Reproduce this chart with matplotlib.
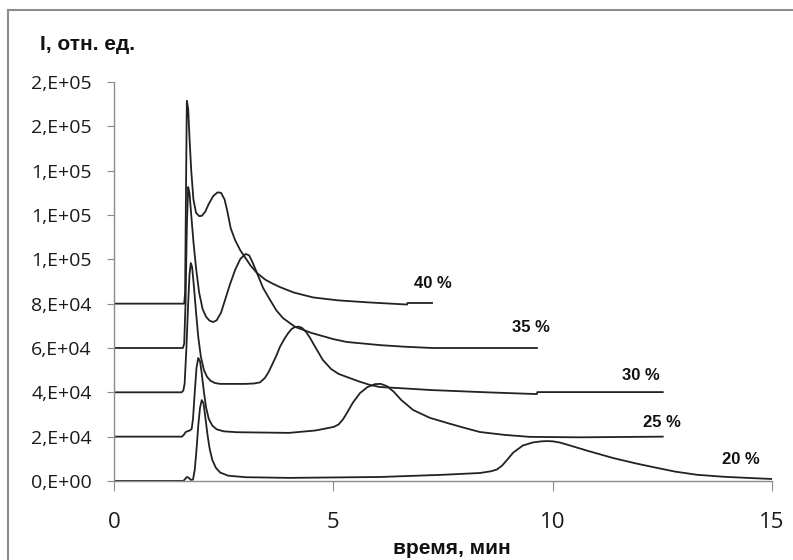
import matplotlib
matplotlib.use('Agg')
import matplotlib.pyplot as plt
from matplotlib.patches import Rectangle
from matplotlib.ticker import FuncFormatter, MultipleLocator

plt.rcParams['font.family'] = ['Open Sans', 'DejaVu Sans']
BOLD_FONT = ['Liberation Sans', 'DejaVu Sans']

# хроматограммы, сдвинутые по оси I на 2E+04 друг от друга
t_40 = [0, 1.60, 1.62, 1.64, 1.66, 1.69, 1.72, 1.76, 1.81, 1.87, 1.94, 2.00, 2.08, 2.16,
        2.26, 2.36, 2.44, 2.52, 2.58, 2.66, 2.76, 2.88, 3.00, 3.12, 3.26, 3.45, 3.62,
        3.78, 4.10, 4.54, 5.10, 5.77, 6.68, 6.69, 7.25]
i_40 = [80000, 80000, 85000, 130000, 171500, 168000, 155000, 140000, 127000, 121000,
        119500, 119600, 121500, 125000, 128500, 130200, 130000, 127000, 122000, 114000,
        108700, 104000, 100500, 97000, 93800, 90800, 89000, 87500, 85000, 82800, 81500,
        80600, 79600, 80300, 80300]

t_35 = [0, 1.57, 1.60, 1.63, 1.66, 1.69, 1.72, 1.76, 1.81, 1.87, 1.94, 2.02, 2.10, 2.18,
        2.26, 2.34, 2.44, 2.53, 2.64, 2.76, 2.88, 3.00, 3.08, 3.16, 3.26, 3.40, 3.56,
        3.70, 3.85, 4.13, 4.50, 5.00, 5.31, 6.06, 6.60, 7.25, 9.64]
i_35 = [60000, 60000, 62000, 80000, 115000, 132600, 130000, 120000, 108000, 96000, 85000,
        77500, 74000, 72300, 71700, 72500, 76000, 81600, 88500, 95200, 100200, 102400,
        101800, 98500, 93800, 87000, 81600, 77000, 73500, 69500, 66800, 64000, 62700,
        61300, 60600, 60000, 60000]

t_30 = [0, 1.54, 1.58, 1.61, 1.65, 1.69, 1.72, 1.75, 1.78, 1.82, 1.87, 1.92, 1.98, 2.05,
        2.12, 2.20, 2.30, 2.42, 3.00, 3.20, 3.33, 3.44, 3.52, 3.60, 3.70, 3.78, 3.88,
        3.97, 4.05, 4.13, 4.22, 4.29, 4.38, 4.47, 4.60, 4.76, 4.95, 5.12, 5.31, 5.60,
        5.84, 6.06, 6.50, 7.25, 8.50, 9.64, 9.65, 12.51]
i_30 = [40000, 40000, 40800, 44000, 60000, 80000, 93000, 98300, 96500, 88000, 76000,
        65000, 56000, 50000, 47000, 45200, 44200, 43800, 43800, 44000, 44500, 46500,
        49000, 52300, 56500, 60400, 64000, 66700, 68600, 69500, 69600, 69000, 67200,
        64500, 60000, 54600, 50500, 48300, 46900, 44800, 43300, 42400, 41900, 41000,
        40000, 39200, 40100, 40100]

t_25 = [0, 1.55, 1.59, 1.63, 1.68, 1.73, 1.77, 1.80, 1.84, 1.88, 1.92, 1.96, 2.00, 2.05,
        2.10, 2.16, 2.24, 2.34, 2.50, 2.80, 3.99, 4.60, 5.01, 5.12, 5.22, 5.31, 5.45,
        5.61, 5.78, 5.95, 6.08, 6.22, 6.38, 6.55, 6.82, 7.20, 7.59, 8.00, 8.34, 8.90,
        9.48, 10.62, 12.51]
i_25 = [20000, 20000, 20800, 22000, 22500, 22800, 23500, 28000, 40000, 51000, 55500,
        54000, 48500, 40000, 33000, 28000, 25000, 23300, 22400, 22000, 21700, 22800,
        24400, 25500, 27800, 30700, 35500, 39700, 42400, 43700, 43800, 42800, 40200,
        36500, 32000, 28500, 26200, 23900, 22100, 20800, 19900, 19700, 20000]

t_20 = [0, 1.58, 1.62, 1.66, 1.70, 1.75, 1.80, 1.84, 1.88, 1.92, 1.96, 2.00, 2.04, 2.08,
        2.13, 2.18, 2.24, 2.32, 2.42, 2.60, 3.00, 4.00, 6.06, 7.50, 8.34, 8.60, 8.73,
        8.85, 8.96, 9.10, 9.32, 9.55, 9.75, 9.87, 10.00, 10.15, 10.33, 10.80, 11.37,
        11.90, 12.38, 12.80, 13.29, 13.90, 14.43, 15.00]
i_20 = [0, 0, 900, 1800, 1500, 500, 600, 5000, 14000, 25000, 33000, 36500, 35000, 29000,
        21000, 14500, 9500, 6000, 3800, 2400, 1700, 1400, 1800, 2800, 3600, 4400, 5200,
        7000, 9500, 12800, 16000, 17400, 17900, 18000, 17900, 17400, 16400, 13600, 10400,
        7900, 5900, 4200, 2800, 1900, 1400, 900]

series = [(t_40, i_40), (t_35, i_35), (t_30, i_30), (t_25, i_25), (t_20, i_20)]

labels = ['40 %', '35 %', '30 %', '25 %', '20 %']
label_t = [7.27, 9.51, 12.01, 12.49, 14.29]
label_i = [89300, 69400, 47800, 26200, 9500]

fig = plt.figure(figsize=(7.93, 5.60), dpi=100)
fig.set_facecolor('w')
ax = fig.add_axes([0.1438, 0.1411, 0.8297, 0.7125])

for t, i in series:
    ax.plot(t, i, color='#222222', lw=1.3, solid_joinstyle='round')

for s, x, y in zip(labels, label_t, label_i):
    ax.text(x, y, s, ha='center', va='center', fontsize=12, fontweight='bold',
            family=BOLD_FONT, color='#111111')

ax.set_xlim(0, 15)
ax.set_ylim(0, 180000)
ax.xaxis.set_major_locator(MultipleLocator(5))
ax.yaxis.set_major_locator(MultipleLocator(20000))
# формат Excel "0,E+00"
ax.yaxis.set_major_formatter(FuncFormatter(lambda v, p: f'{v:.0E}'.replace('E', ',E')))

for side in ['top', 'right']:
    ax.spines[side].set_visible(False)
for side in ['left', 'bottom']:
    ax.spines[side].set_color('#8c8c8c')
    ax.spines[side].set_linewidth(1.0)
ax.tick_params(axis='y', direction='out', length=5, color='#8c8c8c', labelsize=14,
               labelcolor='#1a1a1a', pad=11)
ax.tick_params(axis='x', direction='out', length=7, color='#8c8c8c', labelsize=16,
               labelcolor='#1a1a1a', pad=15)

fig.text(88 / 793, 1 - 45 / 560, 'I, отн. ед.', ha='center', va='center',
         fontsize=15, fontweight='bold', family=BOLD_FONT, color='#111111')
fig.text(452 / 793, 1 - 548 / 560, 'время, мин', ha='center', va='center',
         fontsize=15, fontweight='bold', family=BOLD_FONT, color='#111111')

# рамка области диаграммы
fig.patches.append(Rectangle((8 / 793, -0.1), 1.2, 0.1 + 1 - 10 / 560,
                             transform=fig.transFigure, fill=False,
                             edgecolor='#8c8c8c', lw=1.5))

fig.savefig('out.png', dpi=100)
